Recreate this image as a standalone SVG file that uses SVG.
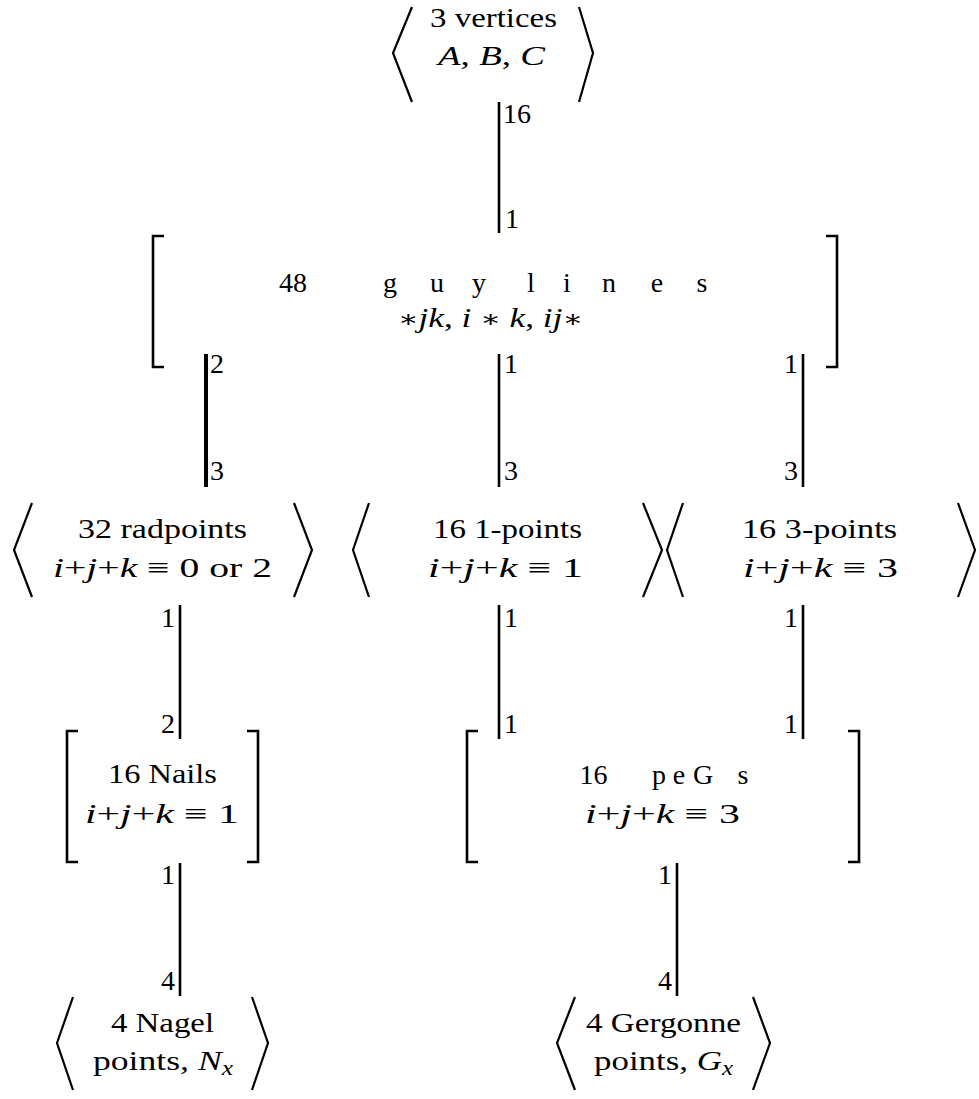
<svg xmlns="http://www.w3.org/2000/svg" width="979" height="1099" viewBox="0 0 979 1099">
<style>
.t { text-anchor: middle; }
.it { font-style: italic; }
.ast { font-family: "DejaVu Serif", serif; font-size: 24px; }
.br { fill: none; stroke: #000; stroke-width: 2.2; stroke-linejoin: miter; }
.sq { fill: none; stroke: #000; stroke-width: 2.6; }
.edge { stroke: #000; stroke-width: 2.6; }
.thick { stroke-width: 4; }
.ls { text-anchor: start; }
.le { text-anchor: end; }
</style>
<rect width="979" height="1099" fill="#fff"/>
<g font-family="'Liberation Serif', 'Times New Roman', Times, serif" font-size="28" fill="#000">
<g id="connectors">
  <line class="edge" x1="499" y1="102" x2="499" y2="233"/>
  <text class="ls" x="503" y="123">16</text>
  <text class="ls" x="505" y="228">1</text>

  <line class="edge thick" x1="206" y1="354" x2="206" y2="487"/>
  <text class="ls" x="210" y="373">2</text>
  <text class="ls" x="210" y="480">3</text>

  <line class="edge" x1="499" y1="354" x2="499" y2="487"/>
  <text class="ls" x="504" y="373">1</text>
  <text class="ls" x="504" y="480">3</text>

  <line class="edge" x1="803" y1="354" x2="803" y2="487"/>
  <text class="le" x="798" y="373">1</text>
  <text class="le" x="798" y="480">3</text>

  <line class="edge" x1="180" y1="605" x2="180" y2="739"/>
  <text class="le" x="175" y="627">1</text>
  <text class="le" x="175" y="733">2</text>

  <line class="edge" x1="499" y1="605" x2="499" y2="739"/>
  <text class="ls" x="504" y="627">1</text>
  <text class="ls" x="504" y="733">1</text>

  <line class="edge" x1="803" y1="605" x2="803" y2="739"/>
  <text class="le" x="798" y="627">1</text>
  <text class="le" x="798" y="733">1</text>

  <line class="edge" x1="180" y1="863" x2="180" y2="996"/>
  <text class="le" x="175" y="884">1</text>
  <text class="le" x="175" y="990">4</text>

  <line class="edge" x1="677" y1="863" x2="677" y2="996"/>
  <text class="le" x="672" y="884">1</text>
  <text class="le" x="672" y="990">4</text>
</g>

<g id="vertices">
  <polyline class="br" points="412,7 393,53 412,102"/>
  <polyline class="br" points="579,7 593,53 579,102"/>
  <text class="t" x="493.5" y="27" textLength="127" lengthAdjust="spacingAndGlyphs">3 vertices</text>
  <text class="t" x="491.5" y="65" textLength="107" lengthAdjust="spacingAndGlyphs"><tspan class="it">A</tspan>, <tspan class="it">B</tspan>, <tspan class="it">C</tspan></text>
</g>

<g id="guylines">
  <path class="sq" d="M164,236 H153 V367 H164"/>
  <path class="sq" d="M826,236 H837 V367 H826"/>
  <text class="t" x="293" y="292">48</text>
  <text class="t" y="292"><tspan x="390">g</tspan><tspan x="437">u</tspan><tspan x="479">y</tspan><tspan x="531">l</tspan><tspan x="567">i</tspan><tspan x="609">n</tspan><tspan x="657">e</tspan><tspan x="702">s</tspan></text>
  <text class="t" x="490.5" y="327" textLength="185" lengthAdjust="spacingAndGlyphs"><tspan class="ast">∗</tspan><tspan class="it">jk</tspan>, <tspan class="it">i</tspan> <tspan class="ast">∗</tspan> <tspan class="it">k</tspan>, <tspan class="it">ij</tspan><tspan class="ast">∗</tspan></text>
</g>

<g id="radpoints">
  <polyline class="br" points="32,503 14,550 32,597"/>
  <polyline class="br" points="294,503 312,550 294,597"/>
  <text class="t" x="162.5" y="538" textLength="169" lengthAdjust="spacingAndGlyphs">32 radpoints</text>
  <text class="t" x="162.5" y="577" textLength="219" lengthAdjust="spacingAndGlyphs"><tspan class="it">i</tspan>+<tspan class="it">j</tspan>+<tspan class="it">k</tspan> ≡ 0 or 2</text>
</g>

<g id="one-points">
  <polyline class="br" points="369,503 353,550 369,597"/>
  <polyline class="br" points="643,503 662,550 643,597"/>
  <text class="t" x="507.5" y="538" textLength="149" lengthAdjust="spacingAndGlyphs">16 1-points</text>
  <text class="t" x="505.5" y="577" textLength="155" lengthAdjust="spacingAndGlyphs"><tspan class="it">i</tspan>+<tspan class="it">j</tspan>+<tspan class="it">k</tspan> ≡ 1</text>
</g>

<g id="three-points">
  <polyline class="br" points="683,503 667,550 683,597"/>
  <polyline class="br" points="958,503 975,550 958,597"/>
  <text class="t" x="819.5" y="538" textLength="155" lengthAdjust="spacingAndGlyphs">16 3-points</text>
  <text class="t" x="820.5" y="577" textLength="155" lengthAdjust="spacingAndGlyphs"><tspan class="it">i</tspan>+<tspan class="it">j</tspan>+<tspan class="it">k</tspan> ≡ 3</text>
</g>

<g id="nails">
  <path class="sq" d="M78,731 H67 V862 H78"/>
  <path class="sq" d="M247,731 H258 V862 H247"/>
  <text class="t" x="162.5" y="783" textLength="109" lengthAdjust="spacingAndGlyphs">16 Nails</text>
  <text class="t" x="162" y="823" textLength="154" lengthAdjust="spacingAndGlyphs"><tspan class="it">i</tspan>+<tspan class="it">j</tspan>+<tspan class="it">k</tspan> ≡ 1</text>
</g>

<g id="pegs">
  <path class="sq" d="M478,731 H467 V862 H478"/>
  <path class="sq" d="M848,731 H859 V862 H848"/>
  <text class="t" x="593.5" y="784">16</text>
  <text class="t" y="784"><tspan x="659">p</tspan><tspan x="679">e</tspan><tspan x="703">G</tspan><tspan x="743">s</tspan></text>
  <text class="t" x="662.5" y="823" textLength="155" lengthAdjust="spacingAndGlyphs"><tspan class="it">i</tspan>+<tspan class="it">j</tspan>+<tspan class="it">k</tspan> ≡ 3</text>
</g>

<g id="nagel">
  <polyline class="br" points="73,997 57,1043 73,1090"/>
  <polyline class="br" points="252,997 268,1043 252,1090"/>
  <text class="t" x="162.5" y="1032" textLength="103" lengthAdjust="spacingAndGlyphs">4 Nagel</text>
  <text class="t" x="163" y="1070" textLength="140" lengthAdjust="spacingAndGlyphs">points, <tspan class="it">N</tspan><tspan class="it" font-size="20" dy="5">x</tspan></text>
</g>

<g id="gergonne">
  <polyline class="br" points="575,997 557,1043 575,1090"/>
  <polyline class="br" points="753,997 770,1043 753,1090"/>
  <text class="t" x="663.5" y="1032" textLength="155" lengthAdjust="spacingAndGlyphs">4 Gergonne</text>
  <text class="t" x="663.5" y="1070" textLength="139" lengthAdjust="spacingAndGlyphs">points, <tspan class="it">G</tspan><tspan class="it" font-size="20" dy="5">x</tspan></text>
</g>
</g>
</svg>
